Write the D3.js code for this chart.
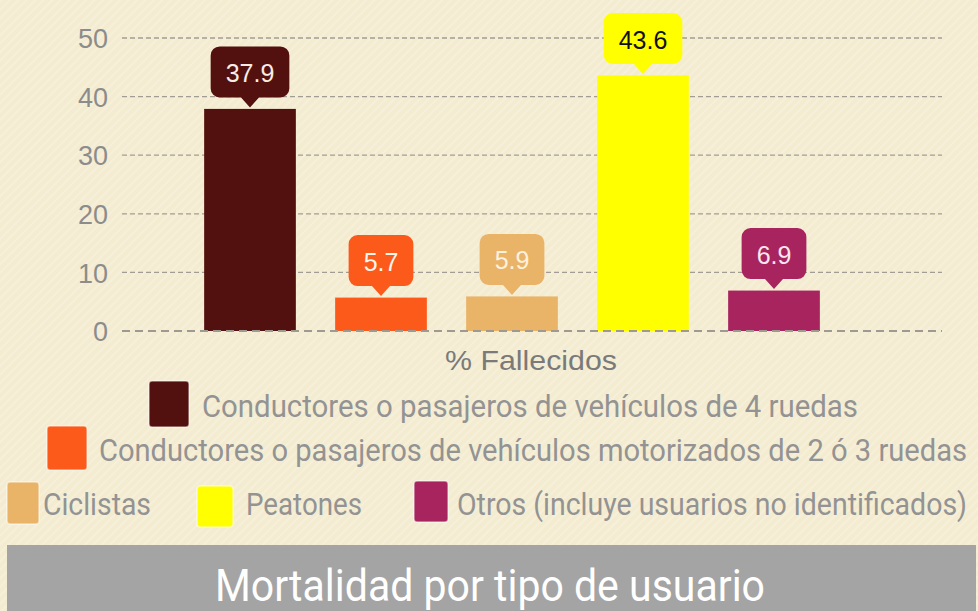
<!DOCTYPE html>
<html>
<head>
<meta charset="utf-8">
<script src="https://cdn.jsdelivr.net/npm/d3@7"></script>
<style>
	body { margin: 0; background: #f4ecd1; }
	#chart { width: 978px; height: 611px; }
</style>
</head>
<body>
<div id="chart"></div>
<script>
'use strict'
var width = 978;
var height = 611;

// data
var categories = [
	"Conductores o pasajeros de vehículos de 4 ruedas",
	"Conductores o pasajeros de vehículos motorizados de 2 ó 3 ruedas",
	"Ciclistas",
	"Peatones",
	"Otros (incluye usuarios no identificados)"
];
var values = [37.9, 5.7, 5.9, 43.6, 6.9];
var colors = ["#52110e", "#fc5a1a", "#e9b468", "#ffff00", "#a8245f"];
var labelColors = ["#f8ece4", "#fff6ee", "#fdf1de", "#111111", "#fbe6f0"];
var yTicks = [0, 10, 20, 30, 40, 50];
var axisTitle = "% Fallecidos";
var chartTitle = "Mortalidad por tipo de usuario";

// legend placement (layout only)
var legendPos = [
	{sx: 149, sy: 381, sw: 40, sh: 46, tx: 202, ty: 417, tl: 656},
	{sx: 47, sy: 426, sw: 40, sh: 44, tx: 99, ty: 461, tl: 868},
	{sx: 7, sy: 482, sw: 32, sh: 42, tx: 43, ty: 515, tl: 108},
	{sx: 197, sy: 486, sw: 36, sh: 41, tx: 246, ty: 515, tl: 116},
	{sx: 414, sy: 481, sw: 34, sh: 41, tx: 457, ty: 515, tl: 510}
];

var svg = d3.select("#chart")
	.append('svg')
	.attr("width", width)
	.attr("height", height);

// striped paper background
var defs = svg.append("defs");
var pat = defs.append("pattern")
	.attr("id", "stripes")
	.attr("patternUnits", "userSpaceOnUse")
	.attr("width", 6)
	.attr("height", 6)
	.attr("patternTransform", "rotate(45)");
pat.append("rect").attr("width", 6).attr("height", 6).attr("fill", "#f4ecd1");
pat.append("rect").attr("width", 2).attr("height", 6).attr("fill", "#f6efd9");

svg.append("rect")
	.attr("width", width)
	.attr("height", height)
	.attr("fill", "url(#stripes)");

var y = d3.scaleLinear()
	.domain([0, 50])
	.range([331, 38]);

var x = d3.scaleBand()
	.domain(categories)
	.range([184.5, 839.5])
	.paddingInner(0.3)
	.paddingOuter(0.15);

var gridLeft = 122;
var gridRight = 942;

// gridlines
svg.append("g")
	.selectAll("line")
	.data(yTicks.filter(function(d){ return d > 0; }))
	.enter()
	.append("line")
		.attr("x1", gridLeft)
		.attr("x2", gridRight)
		.attr("y1", function(d){ return y(d); })
		.attr("y2", function(d){ return y(d); })
		.style("stroke", "#a19d94")
		.style("stroke-width", 1.3)
		.style("stroke-dasharray", "5,3");

// y axis labels
var yAxis = d3.axisLeft(y)
	.tickValues(yTicks)
	.tickSize(0)
	.tickPadding(0);

var gy = svg.append("g")
	.attr("transform", "translate(108,0)")
	.call(yAxis);
gy.select(".domain").remove();
gy.selectAll("text")
	.attr("dy", "0.36em")
	.style("font-family", "Arial, 'Liberation Sans', sans-serif")
	.style("font-size", "27px")
	.style("fill", "#8c8c8c");

// bars
svg.append("g")
	.selectAll("rect")
	.data(values)
	.enter()
	.append("rect")
		.attr("x", function(d, i){ return x(categories[i]); })
		.attr("y", function(d){ return y(d); })
		.attr("width", x.bandwidth())
		.attr("height", function(d){ return y(0) - y(d); })
		.attr("fill", function(d, i){ return colors[i]; });

// baseline
svg.append("line")
	.attr("x1", gridLeft)
	.attr("x2", gridRight)
	.attr("y1", y(0))
	.attr("y2", y(0))
	.style("stroke", "#9e9a92")
	.style("stroke-width", 2)
	.style("stroke-dasharray", "8,5");

// value callouts
var callouts = svg.append("g")
	.selectAll("g")
	.data(values)
	.enter()
	.append("g")
		.attr("transform", function(d, i){
			return "translate(" + (x(categories[i]) + x.bandwidth() / 2) + "," + (y(d) - 1.5) + ")";
		});

callouts.each(function(d, i){
	var g = d3.select(this);
	var txt = g.append("text")
		.attr("x", 0)
		.attr("y", -36)
		.attr("text-anchor", "middle")
		.attr("dominant-baseline", "central")
		.style("font-family", "Arial, 'Liberation Sans', sans-serif")
		.style("font-size", "25px")
		.style("fill", labelColors[i])
		.text(d);
	var w = txt.node().getComputedTextLength() + 30;
	var h = 51, r = 9, tip = 10, hw = 9;
	var top = -tip - h;
	var path = d3.path();
	path.moveTo(-w / 2 + r, top);
	path.lineTo(w / 2 - r, top);
	path.arcTo(w / 2, top, w / 2, top + r, r);
	path.lineTo(w / 2, -tip - r);
	path.arcTo(w / 2, -tip, w / 2 - r, -tip, r);
	path.lineTo(hw, -tip);
	path.lineTo(0, 0);
	path.lineTo(-hw, -tip);
	path.lineTo(-w / 2 + r, -tip);
	path.arcTo(-w / 2, -tip, -w / 2, -tip - r, r);
	path.lineTo(-w / 2, top + r);
	path.arcTo(-w / 2, top, -w / 2 + r, top, r);
	path.closePath();
	g.insert("path", "text")
		.attr("d", path.toString())
		.attr("fill", colors[i]);
	txt.attr("y", top + h / 2 + 1);
});

// axis title
svg.append("text")
	.attr("x", 445)
	.attr("y", 370)
	.attr("textLength", 172)
	.attr("lengthAdjust", "spacingAndGlyphs")
	.style("font-family", "Arial, 'Liberation Sans', sans-serif")
	.style("font-size", "28px")
	.style("fill", "#7a7a7a")
	.text(axisTitle);

// legend
var legend = svg.append("g")
	.selectAll("g")
	.data(categories)
	.enter()
	.append("g");

legend.append("rect")
	.attr("x", function(d, i){ return legendPos[i].sx; })
	.attr("y", function(d, i){ return legendPos[i].sy; })
	.attr("width", function(d, i){ return legendPos[i].sw; })
	.attr("height", function(d, i){ return legendPos[i].sh; })
	.attr("rx", 3)
	.attr("fill", function(d, i){ return colors[i]; })
	.style("stroke", "rgba(255,255,255,0.5)")
	.style("stroke-width", 1.5);

// condensed look: smaller font stretched vertically, squeezed to width
legend.append("text")
	.attr("transform", function(d, i){
		return "translate(" + legendPos[i].tx + "," + legendPos[i].ty + ") scale(1,1.15)";
	})
	.attr("textLength", function(d, i){ return legendPos[i].tl; })
	.attr("lengthAdjust", "spacingAndGlyphs")
	.style("font-family", "'Liberation Sans Narrow', 'Roboto', Arial, sans-serif")
	.style("font-size", "27px")
	.style("fill", "#939393")
	.text(function(d){ return d; });

// title band
svg.append("rect")
	.attr("x", 7)
	.attr("y", 545)
	.attr("width", 969)
	.attr("height", 66)
	.attr("fill", "#a4a4a4");

svg.append("text")
	.attr("transform", "translate(215,601) scale(1,1.15)")
	.attr("textLength", 550)
	.attr("lengthAdjust", "spacingAndGlyphs")
	.style("font-family", "'Liberation Sans Narrow', 'Roboto', Arial, sans-serif")
	.style("font-size", "38px")
	.style("fill", "#ffffff")
	.text(chartTitle);
</script>
</body>
</html>
